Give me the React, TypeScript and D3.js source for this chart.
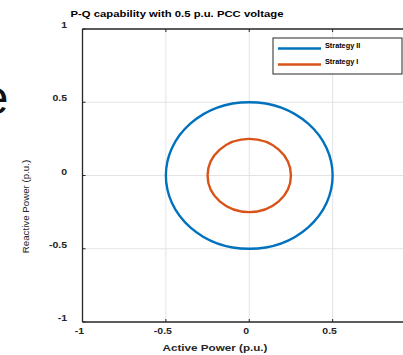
import React from "react";
import * as d3 from "d3";

const seriesNames = ["Strategy II", "Strategy I"];
const seriesRadii = [0.5, 0.25];
const seriesColors = ["#0072BD", "#D95319"];
const xTicks = [-1, -0.5, 0, 0.5, 1];
const yTicks = [-1, -0.5, 0, 0.5, 1];
const xTickLabels = ["-1", "-0.5", "0", "0.5", "1"];
const yTickLabels = ["-1", "-0.5", "0", "0.5", "1"];

const W = 403;
const H = 355;
const FONT = "'Liberation Sans', Arial, Helvetica, sans-serif";

function SText(props: {
  x: number;
  y: number;
  sx?: number;
  size: number;
  bold?: boolean;
  anchor?: string;
  rotate?: number;
  fill?: string;
  children: React.ReactNode;
}) {
  const { x, y, sx = 1, size, bold, anchor = "start", rotate = 0, fill = "#262626", children } = props;
  return (
    <text
      transform={`translate(${x},${y}) rotate(${rotate}) scale(${sx},1)`}
      fontSize={size}
      fontWeight={bold ? "bold" : "normal"}
      textAnchor={anchor}
      fill={fill}
    >
      {children}
    </text>
  );
}

export default function App() {
  const x = d3.scaleLinear().domain([-1, 1]).range([82.5, 416]);
  const y = d3.scaleLinear().domain([-1, 1]).range([322, 29]);
  const axisColor = "#262626";
  const gridColor = "#e3e3e3";

  return (
    <svg
      width={W}
      height={H}
      style={{ position: "absolute", left: 0, top: 0, background: "#fff" }}
      fontFamily={FONT}
    >
      <rect x={0} y={0} width={W} height={H} fill="#fff" />
      {/* stray large glyph at left edge */}
      <text x={8.5} y={114} fontSize={48} textAnchor="end" fill="#111">
        e
      </text>

      {/* grid */}
      {xTicks.map((t, i) =>
        t > -1 && t < 1 ? (
          <line key={"gx" + i} x1={x(t)} x2={x(t)} y1={y(1)} y2={y(-1)} stroke={gridColor} strokeWidth={1} />
        ) : null
      )}
      {yTicks.map((t, i) =>
        t > -1 && t < 1 ? (
          <line key={"gy" + i} x1={x(-1)} x2={x(1)} y1={y(t)} y2={y(t)} stroke={gridColor} strokeWidth={1} />
        ) : null
      )}

      {/* circles */}
      {seriesRadii.map((r, i) => (
        <ellipse
          key={"c" + i}
          cx={x(0)}
          cy={y(0)}
          rx={x(r) - x(0)}
          ry={y(0) - y(r)}
          fill="none"
          stroke={seriesColors[i]}
          strokeWidth={2.4}
        />
      ))}

      {/* axes box */}
      <line x1={x(-1)} x2={x(1)} y1={y(-1)} y2={y(-1)} stroke={axisColor} strokeWidth={1.3} />
      <line x1={x(-1)} x2={x(1)} y1={y(1)} y2={y(1)} stroke={axisColor} strokeWidth={1.3} />
      <line x1={x(-1)} x2={x(-1)} y1={y(1)} y2={y(-1)} stroke={axisColor} strokeWidth={1.3} />

      {/* ticks */}
      {xTicks.map((t, i) => (
        <g key={"xt" + i}>
          <line x1={x(t)} x2={x(t)} y1={y(-1)} y2={y(-1) - 3} stroke={axisColor} strokeWidth={1} />
          <line x1={x(t)} x2={x(t)} y1={y(1)} y2={y(1) + 3} stroke={axisColor} strokeWidth={1} />
          {x(t) < W - 6 ? (
            <SText x={x(t) - 3} y={333.5} size={8.4} sx={1.25} bold anchor="middle">
              {xTickLabels[i]}
            </SText>
          ) : null}
        </g>
      ))}
      {yTicks.map((t, i) => (
        <g key={"yt" + i}>
          <line x1={x(-1)} x2={x(-1) + 3} y1={y(t)} y2={y(t)} stroke={axisColor} strokeWidth={1} />
          <SText x={67} y={y(t) - 1} size={8.4} sx={1.25} bold anchor="end">
            {yTickLabels[i]}
          </SText>
        </g>
      ))}

      {/* title */}
      <SText x={177} y={17.3} size={8.5} sx={1.33} bold anchor="middle" fill="#000">
        P-Q capability with 0.5 p.u. PCC voltage
      </SText>

      {/* axis labels */}
      <SText x={215} y={351} size={9.5} sx={1.23} bold anchor="middle">
        Active Power (p.u.)
      </SText>
      <SText x={29} y={206.5} size={9} sx={1.08} rotate={-90} anchor="middle">
        Reactive Power (p.u.)
      </SText>

      {/* legend */}
      <rect x={273} y={38} width={129} height={36} fill="#fff" stroke={axisColor} strokeWidth={1} />
      {seriesNames.map((n, i) => (
        <g key={"lg" + i}>
          <line x1={278} x2={321} y1={48.5 + i * 16} y2={48.5 + i * 16} stroke={seriesColors[i]} strokeWidth={2.4} />
          <SText x={325} y={47.7 + i * 16.5} size={7.3} bold fill="#000">
            {n}
          </SText>
        </g>
      ))}
    </svg>
  );
}
